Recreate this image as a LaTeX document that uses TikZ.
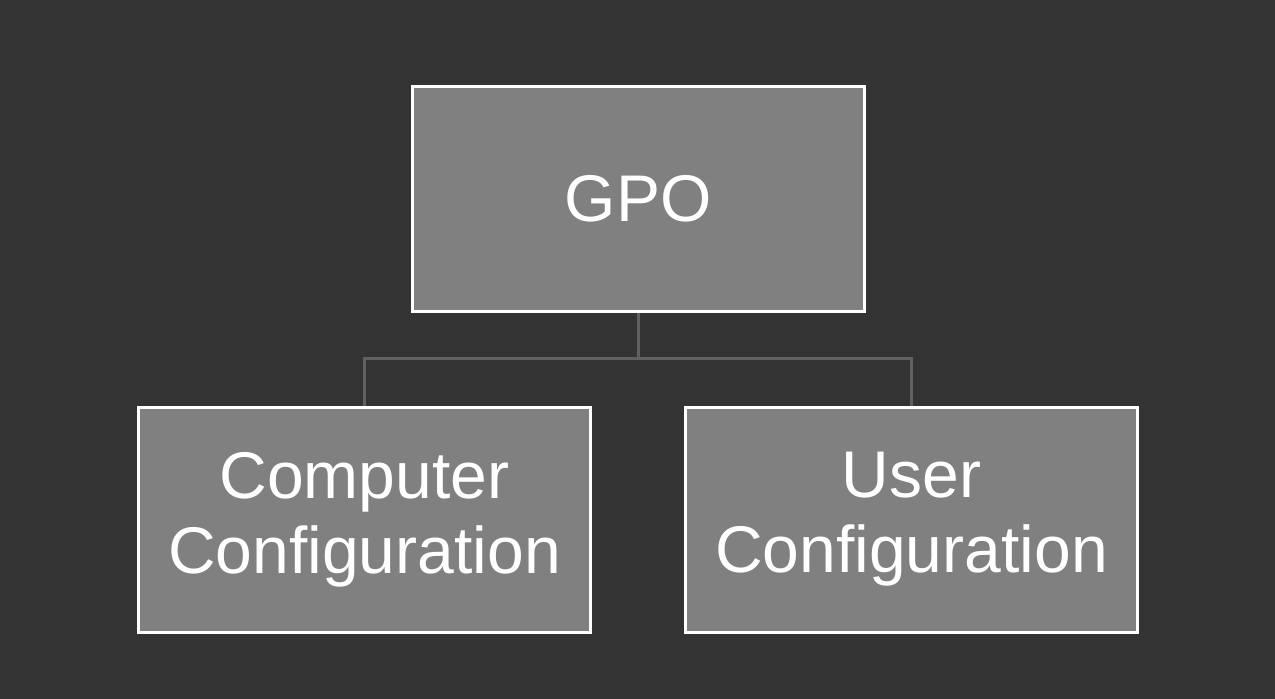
\documentclass[tikz,border=0pt]{standalone}
\usepackage{fontspec}
\setmainfont{Liberation Sans}
\definecolor{bg}{HTML}{333333}
\definecolor{boxfill}{HTML}{808080}
\definecolor{linec}{HTML}{606060}
\begin{document}
\begin{tikzpicture}[x=1pt,y=-1pt,
  box/.style={draw=white,line width=3pt,fill=boxfill,text=white,minimum width=452pt,minimum height=225pt,inner sep=0pt,align=center,font=\fontsize{66}{75}\selectfont},
  conn/.style={draw=linec,line width=3pt}]
\fill[bg] (0,0) rectangle (1275,699);
\useasboundingbox (0,0) rectangle (1275,699);
\node[box] (gpo) at (638,198.5) {GPO};
\node[box] (cc) at (364.5,519.5) {Computer\\Configuration};
\node[box] (uc) at (911.5,519.5) {User\\Configuration};
\coordinate (mid) at (638,358);
\draw[conn] (gpo.south) -- (mid);
\draw[conn] (cc.north) |- (mid) -| (uc.north);
\end{tikzpicture}
\end{document}
